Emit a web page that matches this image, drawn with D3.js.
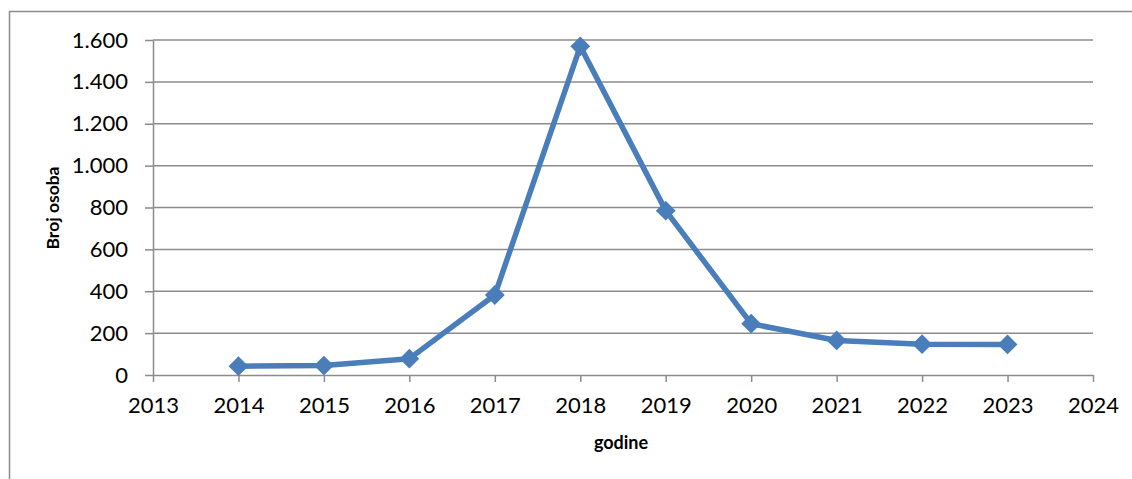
<!DOCTYPE html>
<html><head><meta charset="utf-8">
<script src="https://cdn.jsdelivr.net/npm/d3@7"></script>
<style>body{margin:0;background:#fff;}svg{display:block;}</style>
</head><body>
<svg id="c" width="1132" height="479"></svg>
<script>
const years = [2014, 2015, 2016, 2017, 2018, 2019, 2020, 2021, 2022, 2023];
const values = [42, 45, 78, 382, 1570, 785, 245, 165, 147, 146];
const yTicks = [0, 200, 400, 600, 800, 1000, 1200, 1400, 1600];
const xTicks = [2013, 2014, 2015, 2016, 2017, 2018, 2019, 2020, 2021, 2022, 2023, 2024];
const yTitle = "Broj osoba";
const xTitle = "godine";

(function () {
const svg = d3.select("#c");
const font = "Lato, 'Open Sans', sans-serif";
const mL = 153, mR = 1093, mT = 40, mB = 375;
const x = d3.scaleLinear().domain([2013, 2024]).range([mL, mR]);
const y = d3.scaleLinear().domain([0, 1600]).range([mB, mT]);
const fmt = v => d3.format(",")(v).replace(/,/g, ".");

// outer frame
svg.append("path").attr("d", "M9.5,479 L9.5,11.5 L1132,11.5")
  .attr("fill", "none").attr("stroke", "#8c8c8c").attr("stroke-width", 1.5);

// gridlines
svg.append("g").selectAll("line").data(yTicks.filter(d => d > 0)).join("line")
  .attr("x1", mL).attr("x2", mR).attr("y1", d => y(d)).attr("y2", d => y(d))
  .attr("stroke", "#8c8c8c").attr("stroke-width", 1.5);

// y axis
const ya = svg.append("g").attr("transform", `translate(${mL},0)`)
  .call(d3.axisLeft(y).tickValues(yTicks).tickFormat(fmt).tickSizeInner(8).tickSizeOuter(0).tickPadding(17));
ya.select(".domain").attr("stroke", "#8c8c8c").attr("stroke-width", 1.5);
ya.selectAll(".tick line").attr("stroke", "#8c8c8c").attr("stroke-width", 1.5);
ya.selectAll("text").attr("font-family", font).attr("font-size", 22).attr("fill", "#000");

// x axis
const xa = svg.append("g").attr("transform", `translate(0,${mB})`)
  .call(d3.axisBottom(x).tickValues(xTicks).tickFormat(d3.format("d")).tickSizeInner(7).tickSizeOuter(0).tickPadding(15));
xa.select(".domain").attr("stroke", "#8c8c8c").attr("stroke-width", 1.5);
xa.selectAll(".tick line").attr("stroke", "#8c8c8c").attr("stroke-width", 1.5);
xa.selectAll("text").attr("font-family", font).attr("font-size", 22).attr("fill", "#000");

// line
const line = d3.line().x((d, i) => x(years[i])).y(d => y(d));
svg.append("path").datum(values).attr("d", line)
  .attr("fill", "none").attr("stroke", "#4a7ebb").attr("stroke-width", 5.5).attr("stroke-linejoin", "round");

// markers
svg.append("g").selectAll("path").data(values).join("path")
  .attr("transform", (d, i) => `translate(${x(years[i])},${y(d)}) rotate(45)`)
  .attr("d", "M-7,-7 L7,-7 L7,7 L-7,7 Z")
  .attr("fill", "#4a7ebb");

// titles
svg.append("text").attr("transform", "translate(59,208) rotate(-90)")
  .attr("text-anchor", "middle").attr("font-family", font).attr("font-weight", "bold")
  .attr("font-size", 17.5).text(yTitle);
svg.append("text").attr("x", 621).attr("y", 449)
  .attr("text-anchor", "middle").attr("font-family", font).attr("font-weight", "bold")
  .attr("font-size", 18).text(xTitle);
})();
</script>
</body></html>
